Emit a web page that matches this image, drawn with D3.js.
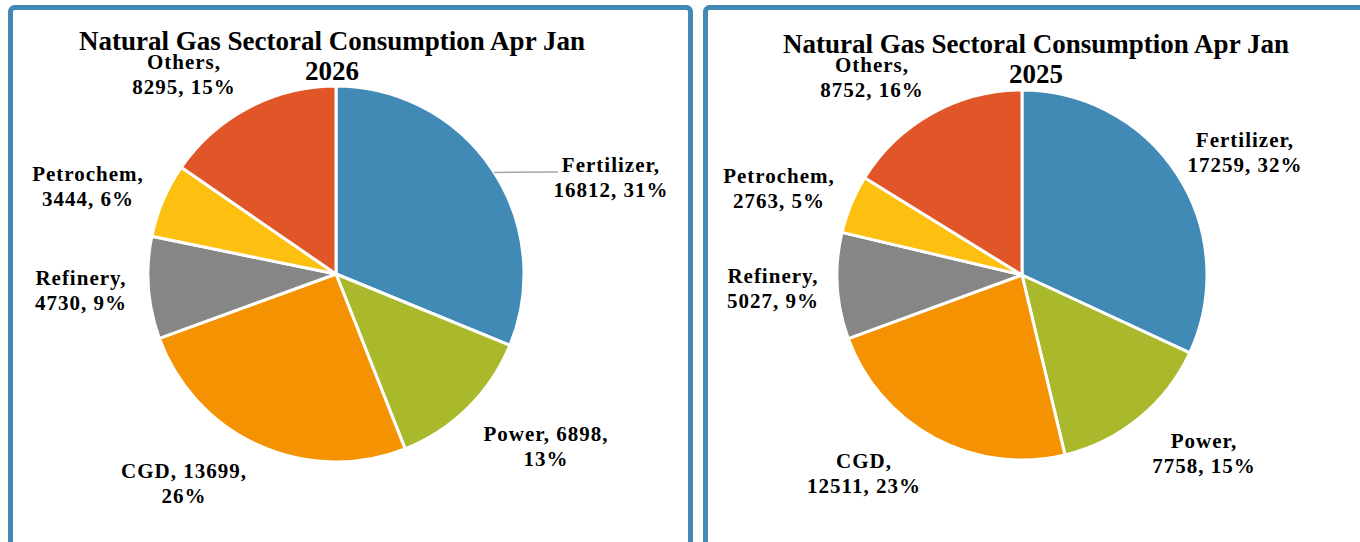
<!DOCTYPE html>
<html>
<head>
<meta charset="utf-8">
<script src="https://cdn.jsdelivr.net/npm/d3@7"></script>
<style>
  html, body { margin: 0; padding: 0; background: #fff; overflow: hidden; }
  .chart { width: 1360px; height: 542px; }
  text { font-family: "Liberation Serif", "Times New Roman", serif; font-weight: bold; fill: #000; }
</style>
</head>
<body>
<div class="chart"></div>
<script>
// sectors, clockwise from 12 o'clock
let sectors = ["Fertilizer", "Power", "CGD", "Refinery", "Petrochem", "Others"];
let colors = ["#418ab6", "#a9b92b", "#f59201", "#868686", "#fdc010", "#e05628"];

let values2026 = [16812, 6898, 13699, 4730, 3444, 8295];
let values2025 = [17259, 7758, 12511, 5027, 2763, 8752];

// percentages as printed on the chart
let pcts2026 = [31, 13, 26, 9, 6, 15];
let pcts2025 = [32, 15, 23, 9, 5, 16];

let titleLines2026 = ["Natural Gas Sectoral Consumption Apr Jan", "2026"];
let titleLines2025 = ["Natural Gas Sectoral Consumption Apr Jan", "2025"];

// how each data label breaks into two lines
let breaks2026 = ["name", "pct", "pct", "name", "name", "name"];
let breaks2025 = ["name", "name", "name", "name", "name", "name"];

function labelLines(name, value, pct, brk) {
    if (brk == "pct") return [name + ", " + value + ",", pct + "%"];
    return [name + ",", value + ", " + pct + "%"];
}

function drawPie(svg, opts) {
    let g = svg.append("g").attr("transform", `translate(${opts.cx},${opts.cy})`);

    let data = opts.values.map((v, i) => ({ name: sectors[i], value: v, pct: opts.pcts[i], color: colors[i], i: i }));

    let pie = d3.pie().sort(null).value(d => d.value);
    let arc = d3.arc().innerRadius(0).outerRadius(opts.r);

    g.selectAll("path.slice")
        .data(pie(data))
        .enter().append("path")
        .attr("class", "slice")
        .attr("d", arc)
        .attr("fill", d => d.data.color)
        .attr("stroke", "#fff")
        .attr("stroke-width", 3)
        .attr("stroke-linejoin", "round");

    //title
    let title = svg.append("text")
        .attr("x", opts.titleX)
        .attr("text-anchor", "middle")
        .style("font-size", "27px");
    opts.title.forEach((t, k) => {
        title.append("tspan")
            .attr("x", opts.titleX)
            .attr("y", opts.titleY + k * 30)
            .text(t);
    });

    //data labels, placed by hand like the original
    let labels = g.selectAll("text.lbl")
        .data(data)
        .enter().append("text")
        .attr("class", "lbl")
        .attr("text-anchor", "middle")
        .style("font-size", "21px")
        .style("letter-spacing", "1px");

    labels.each(function(d) {
        let pos = opts.labelPos[d.i];
        let lines = labelLines(d.name, d.value, d.pct, opts.breaks[d.i]);
        lines.forEach((t, k) => {
            d3.select(this).append("tspan")
                .attr("x", pos[0])
                .attr("y", pos[1] + k * 24.5)
                .text(t);
        });
    });

    //leader line
    if (opts.leader) {
        let ang = opts.leader.angle;
        let p0 = [opts.r * Math.sin(ang), -opts.r * Math.cos(ang)];
        g.append("path")
            .attr("d", d3.line()([p0, opts.leader.end]))
            .attr("fill", "none")
            .attr("stroke", "#a6a6a6")
            .attr("stroke-width", 1.5);
    }
}

function init() {
    let width = d3.select(".chart").node().offsetWidth;
    let height = d3.select(".chart").node().offsetHeight;

    let svg = d3.select(".chart").append("svg")
        .attr("width", width)
        .attr("height", height);

    //panel frames (bottom runs off the page)
    svg.append("rect")
        .attr("x", 10.5).attr("y", 7.5)
        .attr("width", 680).attr("height", 620)
        .attr("rx", 4)
        .attr("fill", "none")
        .attr("stroke", "#4389b6")
        .attr("stroke-width", 5);

    svg.append("rect")
        .attr("x", 705.5).attr("y", 7.5)
        .attr("width", 700).attr("height", 620)
        .attr("rx", 4)
        .attr("fill", "none")
        .attr("stroke", "#4389b6")
        .attr("stroke-width", 5);

    drawPie(svg, {
        cx: 336, cy: 274, r: 188,
        values: values2026, pcts: pcts2026,
        title: titleLines2026, titleX: 332, titleY: 50,
        breaks: breaks2026,
        labelPos: [[275, -102], [210, 167], [-152, 204], [-255, 11], [-248, -93], [-152, -205]],
        leader: { angle: 1.0, end: [222, -102] }
    });

    drawPie(svg, {
        cx: 1022, cy: 275, r: 185,
        values: values2025, pcts: pcts2025,
        title: titleLines2025, titleX: 1036, titleY: 53,
        breaks: breaks2025,
        labelPos: [[223, -128], [182, 173], [-158, 193], [-249, 8], [-243, -92], [-150, -203]]
    });
}

init();
</script>
</body>
</html>
